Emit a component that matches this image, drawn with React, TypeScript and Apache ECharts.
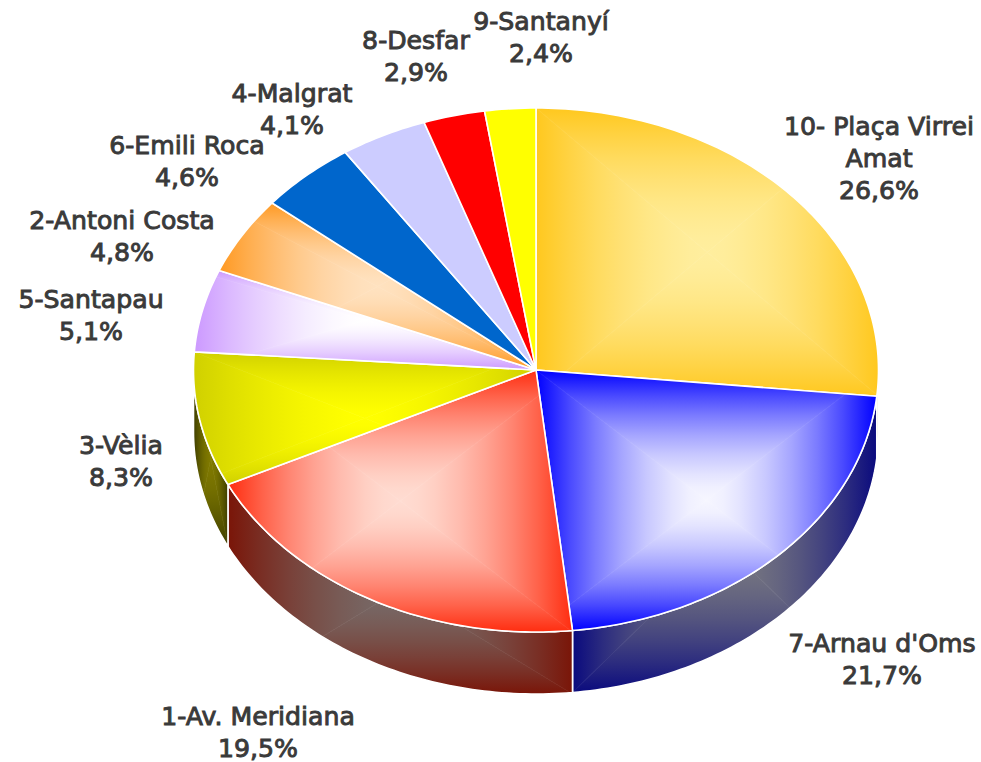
import React, { useEffect, useRef } from "react";
import * as echarts from "echarts";

const names = ["10- Plaça Virrei\nAmat", "7-Arnau d'Oms", "1-Av. Meridiana", "3-Vèlia", "5-Santapau", "2-Antoni Costa", "6-Emili Roca", "4-Malgrat", "8-Desfar", "9-Santanyí"];
const values = [26.6, 21.7, 19.5, 8.3, 5.1, 4.8, 4.6, 4.1, 2.9, 2.4];
const topEdge = ["#ffc81e", "#0000ff", "#ff2d10", "#d0d000", "#cc99ff", "#ff9922", "#0066cc", "#ccccff", "#ff0000", "#ffff00"];
const topCentre = ["#ffee9e", "#f6f6ff", "#ffdcd2", "#ffff00", "#ffffff", "#ffe2c0", "#0066cc", "#ccccff", "#ff0000", "#ffff00"];
const wallEdge = ["#806410", "#0a0a7e", "#7a1508", "#3d3d00", "#000000", "#000000", "#000000", "#000000", "#000000", "#000000"];
const wallCentre = ["#806410", "#7a7a80", "#776b68", "#807a00", "#000000", "#000000", "#000000", "#000000", "#000000", "#000000"];
// label anchor: centre x, centre y of the first line
const labelAnchor = [[879, 127], [882, 644], [258, 717], [121, 446], [91, 300], [122, 221], [187, 146], [292, 94], [416, 41], [541, 22]];

const CX = 536, CY = 370, RX = 342.5, RY = 262, DEPTH = 62;
const total = values.reduce((a, b) => a + b, 0);
type P = number[];
const pt = (t: number, dy = 0): P => [CX + RX * Math.sin(t), CY - RY * Math.cos(t) + dy];
const arc = (t0: number, t1: number, dy = 0): P[] => {
  const n = Math.max(2, Math.ceil(((t1 - t0) * 180) / Math.PI));
  const out: P[] = [];
  for (let i = 0; i <= n; i++) out.push(pt(t0 + ((t1 - t0) * i) / n, dy));
  return out;
};
const hex = (c: string) => [1, 3, 5].map((k) => parseInt(c.slice(k, k + 2), 16));
const mix = (a: string, b: string, m: number) => {
  const A = hex(a), B = hex(b);
  return `rgb(${A.map((v, k) => Math.round(v + (B[k] - v) * m)).join(",")})`;
};
const FALLOFF = [0, 0.1, 0.2, 0.35, 0.5, 0.65, 0.8, 1];
// rectangular (path) gradient over a shape's bounding box: four linear wedges meeting at its centre
const rectGradient = (pts: P[], edge: string, centre: string) => {
  const xs = pts.map((p) => p[0]), ys = pts.map((p) => p[1]);
  const x0 = Math.min(...xs), x1 = Math.max(...xs), y0 = Math.min(...ys), y1 = Math.max(...ys);
  const mx = (x0 + x1) / 2, my = (y0 + y1) / 2;
  const stops = FALLOFF.map((d) => ({ offset: d, color: mix(centre, edge, Math.pow(d, 1.6)) }));
  const wedge = (a: P, b: P, gx: number, gy: number) => {
    const fill = { type: "linear", global: true, x: mx, y: my, x2: gx, y2: gy, colorStops: stops };
    return { type: "polygon", silent: true, shape: { points: [[mx, my], a, b] }, style: { fill, stroke: fill, lineWidth: 0.6 } };
  };
  return [
    wedge([x0, y0], [x1, y0], mx, y0),
    wedge([x1, y0], [x1, y1], x1, my),
    wedge([x1, y1], [x0, y1], mx, y1),
    wedge([x0, y1], [x0, y0], x0, my),
  ];
};
const shaded = (pts: P[], edge: string, centre: string) => {
  const outline = { type: "polygon", silent: true, shape: { points: pts }, style: { fill: "none", stroke: "#ffffff", lineWidth: 1.6, lineJoin: "round" } };
  if (edge === centre) return [{ type: "polygon", silent: true, shape: { points: pts }, style: { fill: edge, stroke: "#ffffff", lineWidth: 1.6, lineJoin: "round" } }];
  return [
    { type: "group", clipPath: { type: "polygon", shape: { points: pts } }, children: rectGradient(pts, edge, centre) },
    outline,
  ];
};

const renderItem = (params: any, api: any) => {
  const i = params.dataIndex;
  const before = values.slice(0, i).reduce((a, b) => a + b, 0);
  const t0 = (before / total) * 2 * Math.PI;
  const t1 = t0 + (api.value(0) / total) * 2 * Math.PI;
  const children: any[] = [];
  const f0 = Math.max(t0, Math.PI / 2), f1 = Math.min(t1, (3 * Math.PI) / 2);
  if (f1 > f0) {
    const wall = [...arc(f0, f1), ...arc(f0, f1, DEPTH).reverse()];
    children.push(...shaded(wall, wallEdge[i], wallCentre[i]));
  }
  const top = [[CX, CY], ...arc(t0, t1)];
  children.push(...shaded(top, topEdge[i], topCentre[i]));
  const label = `${names[i]}\n${api.value(0).toFixed(1).replace(".", ",")}%`;
  children.push({
    type: "text", silent: true, z2: 50, x: labelAnchor[i][0], y: labelAnchor[i][1] - 16, scaleX: 1.05,
    style: { text: label, align: "center", verticalAlign: "top", fill: "#3a3a3a", font: "24px 'DejaVu Sans'", lineHeight: 32, stroke: "#3a3a3a", lineWidth: 0.9 },
  });
  return { type: "group", children };
};

export default function App() {
  const ref = useRef<HTMLDivElement>(null);
  useEffect(() => {
    const chart = echarts.init(ref.current!, undefined, { renderer: "svg" });
    chart.setOption({
      animation: false,
      backgroundColor: "#ffffff",
      series: [{ type: "custom", coordinateSystem: "none", renderItem, data: values.map((v) => [v]), clip: false }],
    });
    return () => chart.dispose();
  }, []);
  return <div ref={ref} style={{ position: "absolute", left: 0, top: 0, width: 981, height: 762 }} />;
}
